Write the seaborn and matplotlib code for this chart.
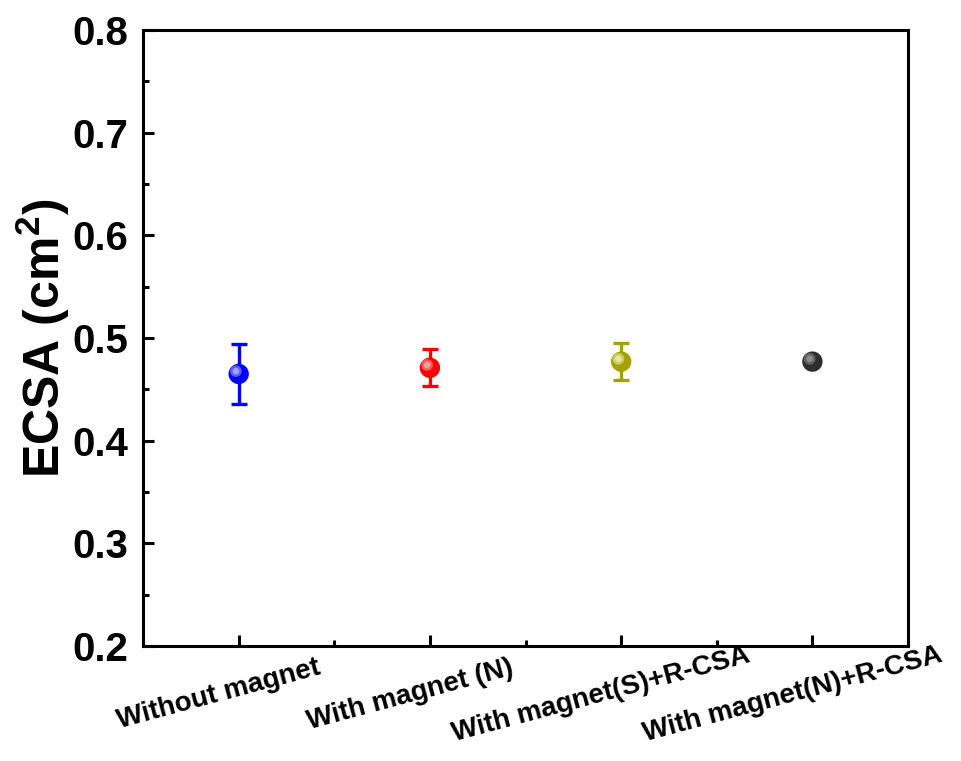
import numpy as np
import pandas as pd
import matplotlib
matplotlib.use("Agg")
import matplotlib.pyplot as plt
import matplotlib.transforms as mtransforms
from matplotlib.ticker import MultipleLocator, FormatStrFormatter
import seaborn as sns

# ECSA measurements (mean ± standard deviation)
conditions = ["Without magnet", "With magnet (N)", "With magnet(S)+R-CSA", "With magnet(N)+R-CSA"]
ecsa_mean = [0.465, 0.471, 0.477, 0.477]
ecsa_err = [0.029, 0.018, 0.018, 0.003]
colors = ["#0000FF", "#FF0000", "#A3A300", "#2E2E2E"]
highlights = ["#A8A8FF", "#FFA8A8", "#EDEDB0", "#909090"]

sns.set_theme(style="white")
plt.rcParams["font.family"] = ["Liberation Sans", "DejaVu Sans"]
plt.rcParams["font.weight"] = "bold"
plt.rcParams["mathtext.fontset"] = "custom"
plt.rcParams["mathtext.rm"] = "Liberation Sans:bold"
plt.rcParams["mathtext.default"] = "rm"
for key in ["text.color", "axes.labelcolor", "xtick.color", "ytick.color", "axes.edgecolor"]:
    plt.rcParams[key] = "black"

df = pd.DataFrame({"condition": conditions, "ecsa": ecsa_mean, "err": ecsa_err})
xpos = np.arange(len(conditions))

fig = plt.figure(figsize=(9.62, 7.61), dpi=100)
ax = fig.add_axes([0.1487, 0.1511, 0.7952, 0.8095])

# error bars
for i in range(len(conditions)):
    ax.errorbar(xpos[i], ecsa_mean[i], yerr=ecsa_err[i], fmt="none",
                ecolor=colors[i], elinewidth=2.4, capsize=5.5, capthick=2.4, zorder=2)

# spherical markers
sns.scatterplot(data=df, x=xpos, y="ecsa", hue="condition", palette=colors,
                s=215, edgecolor="none", legend=False, ax=ax, zorder=3)
shift = mtransforms.ScaledTranslation(-2.0 / 72, 2.0 / 72, fig.dpi_scale_trans)
for size, alpha in [(70, 0.55), (22, 0.9)]:
    ax.scatter(xpos, ecsa_mean, s=size, c=highlights, edgecolors="none", alpha=alpha,
               transform=ax.transData + shift, zorder=4)

ax.set_xlim(-0.5, 3.5)
ax.set_ylim(0.2, 0.8)
ax.set_xticks(xpos)
ax.set_xticklabels(conditions, rotation=15, fontsize=20, fontweight="bold", va="center")
ax.xaxis.set_minor_locator(MultipleLocator(0.5))
ax.yaxis.set_major_locator(MultipleLocator(0.1))
ax.yaxis.set_minor_locator(MultipleLocator(0.05))
ax.yaxis.set_major_formatter(FormatStrFormatter("%.1f"))

ax.tick_params(axis="both", which="major", direction="in", length=8, width=2.2,
               color="black", left=True, bottom=True, top=False, right=False)
ax.tick_params(axis="both", which="minor", direction="in", length=4.5, width=2.2,
               color="black", left=True, bottom=True, top=False, right=False)
ax.tick_params(axis="y", which="major", labelsize=29, pad=11)
ax.tick_params(axis="x", which="major", pad=35)
for lbl in ax.get_yticklabels():
    lbl.set_fontweight("bold")

offset = mtransforms.ScaledTranslation(-20 / 100, 0, fig.dpi_scale_trans)
for lbl in ax.get_xticklabels():
    lbl.set_transform(lbl.get_transform() + offset)

for sp in ax.spines.values():
    sp.set_linewidth(2.2)
    sp.set_color("black")

ax.set_xlabel("")
ax.set_ylabel("ECSA (cm$^2$)", fontsize=36, fontweight="bold", labelpad=0)

fig.savefig("out.png", dpi=100)
